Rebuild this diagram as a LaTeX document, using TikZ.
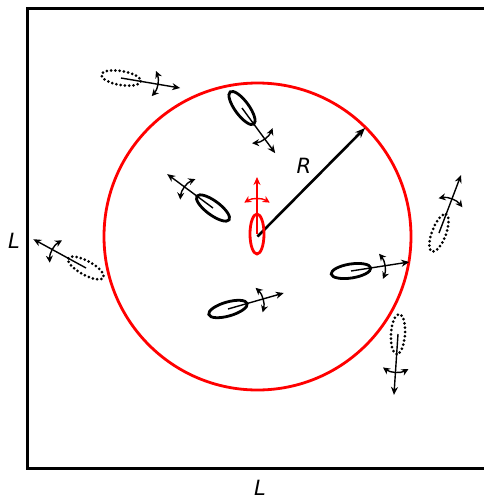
\documentclass[tikz,border=0pt]{standalone}
\usepackage{fontspec}
\setmainfont{DejaVu Sans}
\usetikzlibrary{arrows.meta}
\tikzset{
 body/.style={line width=2.8pt},
 dottedbody/.style={line width=3pt, dash pattern=on 0pt off 4.3pt, line cap=round},
 heading/.style={line width=1.4pt,-{Stealth[length=8pt,width=7pt]}},
 turn/.style={line width=1.4pt,{Stealth[length=7pt,width=7pt]}-{Stealth[length=7pt,width=7pt]}},
 lab/.style={font=\fontsize{21}{25}\selectfont\itshape, inner sep=0pt},
 frame/.style={line width=3pt},
 redcircle/.style={line width=2.8pt, draw=red}
}
\newcommand\swimmer[7]{%
 \begin{scope}[shift={(#1,#2)}, rotate=#3, draw=#7, color=#7]
  \draw[#6] (0,0) ellipse [x radius=20, y radius=7];
  \draw[heading] (0,0) -- (#4,0);
  \draw[turn] (#5-24,0) ++(-32:24) arc[start angle=-32, end angle=32, radius=24];
 \end{scope}}
\begin{document}
\begin{tikzpicture}[x=1pt,y=-1pt]
\useasboundingbox (0,0) rectangle (484,499);
\clip (0,0) rectangle (484,499);
\coordinate (tr) at (495,8);
\coordinate (tl) at (27,8);
\coordinate (bl) at (27,468);
\coordinate (br) at (495,468);
\draw[frame] (tr) -- (tl) -- (bl) -- (br);
\coordinate (c) at (257.5,236.5);
\draw[redcircle] (c) circle [radius=153.5];
\coordinate (rtip) at (365,128);
\draw[line width=2.6pt,-{Stealth[length=10pt,width=8pt]}] (c) -- (rtip);
\node[lab] (Rl) at (304,166) {R};
\node[lab, anchor=base] (Lb) at (260,495) {L};
\node[lab] (Ll) at (14,241) {L};
% swimmers: x, y, heading, length, cross distance, body style, colour
\swimmer{121}{78}{-9.6}{60}{37}{dottedbody}{black}
\swimmer{242}{108}{-53.7}{56}{38}{body}{black}
\swimmer{213}{208}{143.5}{57}{35}{body}{black}
\swimmer{257}{234}{90}{57}{35}{body}{red}
\swimmer{86}{268}{151.3}{60}{38}{dottedbody}{black}
\swimmer{351}{271}{8.8}{59}{34}{body}{black}
\swimmer{439}{233}{69.2}{62}{36}{dottedbody}{black}
\swimmer{398}{334}{-93.8}{61}{38}{dottedbody}{black}
\swimmer{228}{309}{16}{58}{36}{body}{black}
\end{tikzpicture}
\end{document}
